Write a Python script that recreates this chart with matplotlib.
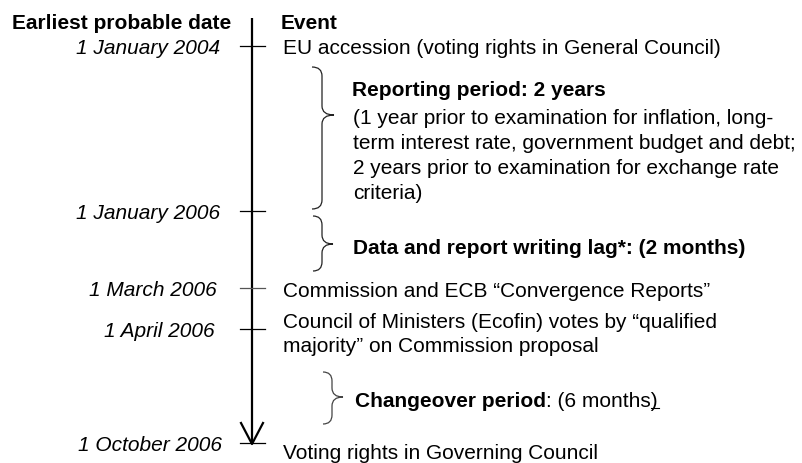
import matplotlib
matplotlib.use("Agg")
import matplotlib.pyplot as plt
from matplotlib.path import Path
from matplotlib.patches import PathPatch

plt.rcParams['font.family'] = ['Liberation Sans', 'DejaVu Sans']

# timeline data
dates = ["1 January 2004", "1 January 2006", "1 March 2006",
         "1 April 2006", "1 October 2006"]
events = [["EU accession (voting rights in General Council)"],
          [],
          ["Commission and ECB \u201cConvergence Reports\u201d"],
          ["Council of Ministers (Ecofin) votes by \u201cqualified",
           "majority\u201d on Commission proposal"],
          ["Voting rights in Governing Council"]]
reporting_title = "Reporting period: 2 years"
reporting_note = ["(1 year prior to examination for inflation, long-",
                  "term interest rate, government budget and debt;",
                  "2 years prior to examination for exchange rate",
                  "criteria)"]
lag_label = "Data and report writing lag*: (2 months)"
changeover_bold = "Changeover period"
changeover_rest = ": (6 months)"

# layout (pixels, y down)
date_y = [47, 212, 289, 330, 444]
date_right = [220, 220, 217, 215, 222]
event_y = [[47], [], [290], [321, 345], [452]]
FS = 15
off = 7  # center -> baseline

fig = plt.figure(figsize=(8.03, 4.64), dpi=100)
ax = fig.add_axes([0, 0, 1, 1])
ax.set_xlim(0, 803)
ax.set_ylim(464, 0)
ax.axis('off')

# headers
ax.text(12, 22 + off, "Earliest probable date", fontsize=FS, fontweight='bold', va='baseline')
ax.text(281, 22 + off, "Event", fontsize=FS, fontweight='bold', va='baseline')

# main arrow line
ax.plot([252, 252], [19, 445], color='black', lw=1.6, solid_capstyle='butt')
ax.plot([241, 252, 263], [424, 445, 424], color='black', lw=1.6)

tick_cols = ['black', 'black', '#555555', 'black', 'black']
for i, d in enumerate(dates):
    y = date_y[i]
    ax.plot([240, 265], [y, y], color=tick_cols[i], lw=0.9)
    ax.text(date_right[i], y + off, d, fontsize=FS, style='italic', ha='right', va='baseline')
    for line, ly in zip(events[i], event_y[i]):
        ax.text(283, ly + off, line, fontsize=FS, va='baseline')


def brace(x0, xm, xt, ytop, ytip, ybot, color):
    r = min(9, (ytip - ytop) / 2, (ybot - ytip) / 2)
    verts = [(x0, ytop), (xm, ytop), (xm, ytop + r),
             (xm, ytip - r),
             (xm, ytip), (xt, ytip),
             (xm, ytip), (xm, ytip + r),
             (xm, ybot - r),
             (xm, ybot), (x0, ybot)]
    codes = [Path.MOVETO, Path.CURVE3, Path.CURVE3,
             Path.LINETO,
             Path.CURVE3, Path.CURVE3,
             Path.CURVE3, Path.CURVE3,
             Path.LINETO,
             Path.CURVE3, Path.CURVE3]
    ax.add_patch(PathPatch(Path(verts, codes), fill=False, edgecolor=color, lw=0.9))


brace(312, 322, 334, 68, 116, 210, '#222222')
brace(313, 322, 333, 217, 245, 272, '#222222')
brace(323, 332, 343, 373, 398, 425, '#444444')

# period texts
ax.text(352, 89 + off, reporting_title, fontsize=FS, fontweight='bold', va='baseline')
for line, ly in zip(reporting_note, [117, 142, 167, 192]):
    ax.text(353, ly + off, line, fontsize=FS, va='baseline')
ax.text(353, 247 + off, lag_label, fontsize=FS, fontweight='bold', va='baseline')
t = ax.text(355, 400 + off, changeover_bold, fontsize=FS, fontweight='bold', va='baseline')
t2 = ax.annotate(changeover_rest, xy=(1, 0), xycoords=t, fontsize=FS, va='bottom')

fig.canvas.draw()
bb = t2.get_window_extent()
inv = ax.transData.inverted()
(xa, ya), (xb, yb) = inv.transform([[bb.x1 - 7, bb.y0 + 3], [bb.x1 + 1, bb.y0 + 3]])
ax.plot([xa, xb], [ya + 1, ya + 1], color='black', lw=0.8)

fig.savefig("out.png", dpi=100)
